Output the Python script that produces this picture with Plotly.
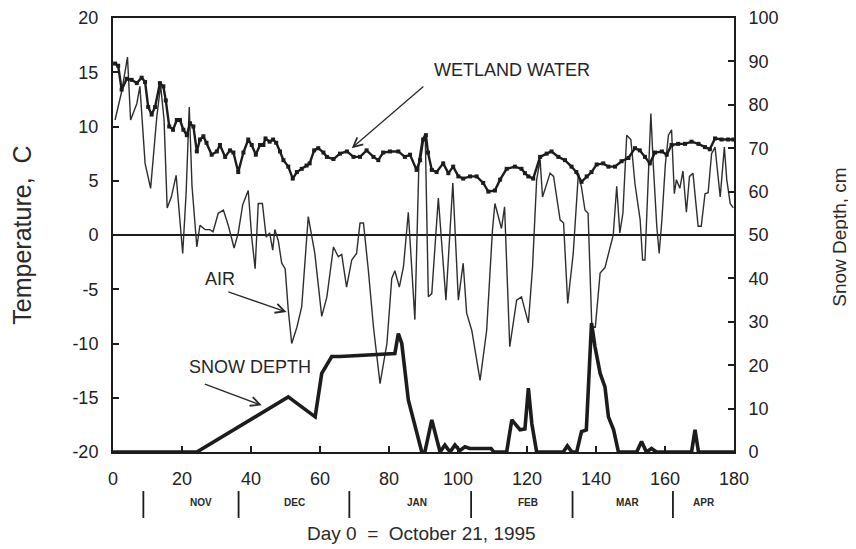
import plotly.graph_objects as go

# ---------------- data ----------------
air_day = [0.6, 2.5, 4.2, 5.1, 6.9, 7.8, 9.3, 10.9, 12.7, 13.8, 14.8, 15.7, 16.9, 18.3, 20.2,
           21.2, 22.1, 22.9, 24.3, 25.2, 26.7, 28.1, 29.0, 30.5, 32.0, 33.4, 35.1, 36.3, 37.6,
           39.2, 40.2, 41.2, 42.1, 43.3, 44.4, 45.4, 46.3, 46.9, 47.9, 48.9, 49.9, 50.8, 51.8,
           53.3, 54.7, 55.7, 56.6, 58.5, 60.5, 62.0, 63.9, 65.3, 66.3, 67.7, 69.2, 70.6, 71.6,
           72.6, 74.0, 75.5, 77.4, 79.4, 80.8, 81.7, 83.0, 84.2, 85.6, 87.5, 88.7, 89.6, 90.5,
           91.4, 92.4, 94.3, 96.5, 98.5, 100.1, 101.5, 102.5, 104.0, 106.4, 108.3, 110.0, 110.7,
           111.7, 112.6, 113.5, 114.6, 115.0, 117.0, 118.4, 120.4, 121.6, 122.8, 123.8, 124.5,
           126.7, 127.7, 129.6, 130.6, 131.8, 133.4, 134.9, 135.8, 136.8, 137.7, 138.8, 139.8,
           141.2, 142.6, 144.0, 145.0, 146.0, 146.9, 147.8, 148.9, 150.1, 151.3, 152.8, 153.5,
           154.2, 155.9, 156.6, 157.6, 158.3, 159.1, 160.1, 161.0, 161.9, 162.7, 163.3, 164.3,
           165.2, 166.2, 167.1, 168.1, 169.6, 170.5, 171.6, 172.5, 173.5, 174.5, 176.0, 177.2,
           177.9, 178.9, 179.8]
air_temp = [10.6, 13.2, 16.4, 10.6, 12.1, 13.7, 6.6, 4.3, 10.9, 13.8, 10.6, 2.5, 3.5, 5.5, -1.7,
            3.9, 11.8, 4.5, -1.1, 0.9, 0.5, 0.5, 0.3, 2.0, 2.3, 0.9, -1.2, 0.2, 2.8,
            4.1, -0.2, -3.1, 2.9, 2.9, -0.2, 0.2, -1.4, 0.5, -0.5, -2.6, -3.1, -6.9, -10.0,
            -8.5, -6.6, -2.3, 1.7, -1.7, -7.5, -5.7, -1.1, -2.0, -1.8, -4.8, -2.3, -1.7, 1.1,
            1.1, -3.2, -8.5, -13.7, -10.0, -4.0, -3.3, -4.8, -2.9, 2.1, -7.8, 7.0, 8.8, 9.3,
            -5.7, -5.4, 3.4, -6.0, 4.8, -6.0, -2.6, -7.2, -8.8, -13.4, -8.8, 0.5, 2.9,
            1.7, 0.6, 2.6, -7.8, -10.3, -6.0, -5.7, -8.1, -3.0, 5.1, 6.9, 3.5,
            5.7, 5.4, 1.4, 1.1, -6.3, -1.7, 5.7, 4.4, 2.3, 2.0, -8.5, -8.5,
            -3.5, -3.0, -1.1, 0.0, 4.5, 0.2, 2.0, 9.2, 8.8, 4.7, 1.4, -2.3,
            -2.3, 11.2, 6.5, 0.9, -1.7, 1.4, 6.5, 9.2, 9.7, 3.8, 5.1, 4.3,
            5.9, 2.1, 5.4, 5.7, 0.8, 0.8, 3.8, 3.9, 7.5, 8.1, 3.5, 8.1,
            5.1, 2.9, 2.5]

water_day = [0.6, 1.5, 2.5, 4.0, 5.4, 6.9, 8.3, 9.3, 10.2, 11.2, 12.2, 13.6, 14.6, 15.3, 16.3,
             17.4, 18.5, 19.4, 20.4, 21.4, 22.3, 23.3, 24.3, 25.2, 26.2, 27.1, 28.6, 30.1, 31.0,
             32.5, 33.9, 34.9, 36.3, 37.8, 39.2, 40.2, 41.4, 42.6, 43.6, 44.2, 45.4, 46.4, 47.3,
             48.4, 49.4, 50.8, 52.1, 53.3, 54.7, 56.1, 57.0, 58.3, 59.5, 61.0, 62.0, 63.9, 65.8,
             67.8, 69.7, 71.6, 73.5, 75.5, 76.9, 78.3, 80.3, 82.7, 84.6, 86.1, 88.0, 89.0, 89.9,
             90.7, 91.3, 92.4, 93.8, 95.7, 97.2, 98.6, 100.1, 101.5, 103.5, 105.4, 107.3, 108.8,
             110.7, 112.2, 114.1, 116.5, 118.4, 119.4, 120.4, 121.8, 123.8, 125.7, 127.1, 129.1,
             131.0, 132.9, 134.3, 135.8, 137.3, 138.7, 140.2, 142.1, 143.6, 145.5, 147.4, 149.4,
             151.3, 152.7, 154.2, 155.6, 157.1, 159.1, 160.5, 161.9, 163.8, 165.8, 167.7, 169.7,
             171.6, 173.0, 174.5, 176.4, 178.3, 179.8]
water_temp = [15.8, 15.6, 13.4, 14.4, 14.3, 14.0, 14.5, 14.1, 11.8, 11.1, 11.8, 14.0, 13.7, 12.4, 10.0,
              9.7, 10.6, 10.6, 9.7, 9.2, 10.3, 10.0, 7.7, 8.8, 9.1, 8.5, 7.4, 7.7, 8.3,
              7.2, 7.8, 7.6, 5.8, 7.6, 8.8, 8.3, 7.4, 8.3, 8.3, 8.9, 8.6, 8.8, 8.5,
              7.7, 6.9, 6.3, 5.2, 5.8, 6.1, 6.4, 6.6, 7.8, 8.0, 7.6, 7.2, 7.0, 7.5,
              7.7, 7.2, 7.2, 7.8, 7.2, 6.9, 7.6, 7.7, 7.7, 7.2, 7.4, 6.0, 6.9, 8.8,
              9.2, 7.6, 6.0, 5.8, 6.6, 5.7, 6.3, 5.4, 5.2, 5.4, 5.4, 4.8, 4.0,
              4.1, 5.1, 6.1, 6.3, 6.1, 5.7, 5.4, 5.2, 7.2, 7.5, 7.7, 7.2,
              6.9, 6.3, 5.8, 4.9, 5.4, 5.8, 6.5, 6.6, 6.3, 6.3, 6.8, 7.1,
              8.0, 7.8, 7.2, 6.6, 7.6, 7.7, 7.4, 8.3, 8.4, 8.4, 8.6, 8.4,
              8.1, 7.9, 8.9, 8.8, 8.8, 8.8]

snow_day = [0, 24.3, 50.8, 58.6, 60.5, 63.4, 65.8, 81.7, 82.7, 83.7, 85.6, 89.5, 90.4, 92.4,
            94.8, 96.2, 97.7, 99.1, 100.5, 102.0, 103.4, 109.6, 110.4, 114.1, 115.6, 118.0,
            119.4, 120.4, 121.4, 122.8, 130.5, 131.7, 133.0, 134.4, 135.8, 137.2, 138.7, 139.7,
            141.2, 142.6, 143.6, 145.1, 146.5, 151.8, 153.2, 154.6, 156.1, 157.5, 167.7, 168.7,
            169.7, 180]
snow_cm = [0, 0, 12.7, 8.1, 18.1, 22.0, 22.0, 22.7, 27.3, 25.0, 12.0, 0, 0, 7.4,
           0, 1.6, 0, 1.6, 0.3, 1.2, 0.8, 0.8, 0, 0, 7.4, 5.1,
           5.3, 14.7, 6.5, 0, 0, 1.4, 0, 0, 4.7, 5.1, 29.7, 24.3,
           18.1, 15.0, 8.1, 5.1, 0, 0, 2.4, 0, 0.8, 0, 0, 5.1,
           0, 0]

x_ticks = [0, 20, 40, 60, 80, 100, 120, 140, 160, 180]
temp_ticks = [-20, -15, -10, -5, 0, 5, 10, 15, 20]
temp_tick_text = ["-20", "-15", "-10", "-5", "0", "5", "10", "15", "20"]
snow_ticks = [0, 10, 20, 30, 40, 50, 60, 70, 80, 90, 100]
month_names = ["NOV", "DEC", "JAN", "FEB", "MAR", "APR"]
month_centers = [25.5, 52.7, 88.1, 120.3, 149.4, 171.3]
month_bounds = [8.8, 36.4, 68.5, 103.8, 133.2, 162.3]

# ---------------- figure ----------------
INK = "#1c1c1c"
FONT = "Liberation Sans, Arial, sans-serif"

fig = go.Figure()
fig.add_trace(go.Scatter(x=air_day, y=air_temp, mode="lines",
                         line=dict(color="#2e2e2e", width=1.4), name="AIR"))
fig.add_trace(go.Scatter(x=water_day, y=water_temp, mode="lines+markers",
                         line=dict(color=INK, width=2.4),
                         marker=dict(symbol="square", size=4, color=INK),
                         name="WETLAND WATER"))
fig.add_trace(go.Scatter(x=snow_day, y=snow_cm, mode="lines", yaxis="y2",
                         line=dict(color=INK, width=3.6), name="SNOW DEPTH"))

axis_common = dict(showgrid=False, ticks="inside", ticklen=6, tickwidth=1.5,
                   tickcolor=INK, showline=True, linecolor=INK, linewidth=2,
                   tickfont=dict(family=FONT, size=18, color="#222222"),
                   ticklabelstandoff=9, automargin=False)

# page body has an 8px margin, so the figure is drawn 8px smaller and offset
fig.update_layout(
    width=848, height=541, autosize=False,
    margin=dict(l=105, r=122, t=10, b=97),
    paper_bgcolor="white", plot_bgcolor="white",
    showlegend=False,
    xaxis=dict(range=[0, 180], tickvals=x_ticks, mirror=True, zeroline=False,
               **axis_common),
    yaxis=dict(range=[-20, 20], tickvals=temp_ticks, ticktext=temp_tick_text,
               zeroline=True, zerolinecolor=INK, zerolinewidth=1.5, **axis_common),
    yaxis2=dict(range=[0, 100], tickvals=snow_ticks, overlaying="y", side="right",
                zeroline=False, **axis_common),
)

ann = []
# axis titles
ann.append(dict(text="Temperature,  C", xref="paper", yref="paper", x=-0.147, y=0.5,
                textangle=-90, showarrow=False, xanchor="center", yanchor="middle",
                font=dict(family=FONT, size=25, color="#2a2a2a")))
ann.append(dict(text="Snow Depth, cm", xref="paper", yref="paper", x=1.170, y=0.495,
                textangle=-90, showarrow=False, xanchor="center", yanchor="middle",
                font=dict(family=FONT, size=19, color="#2a2a2a")))
ann.append(dict(text="Day 0  =  October 21, 1995", xref="x", yref="paper", x=89.3, y=-0.188,
                showarrow=False, xanchor="center", yanchor="middle",
                font=dict(family=FONT, size=19, color="#2a2a2a")))
for name, c in zip(month_names, month_centers):
    ann.append(dict(text="<b>" + name + "</b>", xref="x", yref="paper", x=c, y=-0.1175,
                    showarrow=False, xanchor="center", yanchor="middle",
                    font=dict(family=FONT, size=10, color="#2a2a2a")))

# series labels
lab_font = dict(family=FONT, size=18, color="#252525")
ann.append(dict(text="WETLAND WATER", x=115.7, y=15.2, xref="x", yref="y",
                showarrow=False, font=lab_font))
ann.append(dict(text="AIR", x=31, y=-4.1, xref="x", yref="y", showarrow=False, font=lab_font))
ann.append(dict(text="SNOW DEPTH", x=39.7, y=-12.2, xref="x", yref="y",
                showarrow=False, font=lab_font))

# arrows
for hx, hy, tx, ty in [(69.2, 8.0, 90.4, 13.8), (50.3, -7.1, 33.0, -5.2), (43.1, -15.7, 26.2, -13.7)]:
    ann.append(dict(text="", x=hx, y=hy, ax=tx, ay=ty, xref="x", yref="y",
                    axref="x", ayref="y", showarrow=True, arrowhead=5, arrowsize=1.4,
                    arrowwidth=1.3, arrowcolor="#2a2a2a", standoff=0))

fig.update_layout(annotations=ann)

for b in month_bounds:
    fig.add_shape(type="line", xref="x", yref="paper", x0=b, x1=b, y0=-0.090, y1=-0.152,
                  line=dict(color=INK, width=1.8))

fig.write_html("out.html")
